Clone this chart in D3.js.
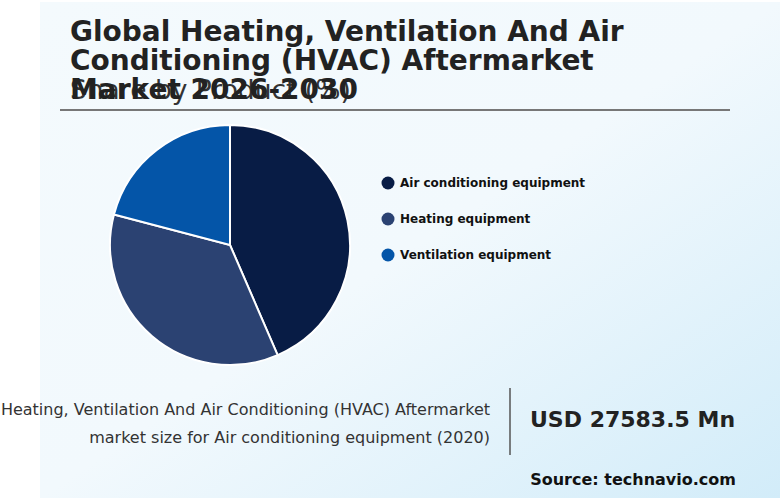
<!DOCTYPE html><html><head><script src="https://d3js.org/d3.v7.min.js"></script>
<style>body{margin:0;background:#fff}text{font-family:"DejaVu Sans",sans-serif}</style></head><body>
<svg id="c" width="780" height="498"></svg>
<script>
const categories=["Air conditioning equipment","Heating equipment","Ventilation equipment"];
const values=[43.5,35.6,20.9];
const colors=["#081c45","#2b4272","#0455a8"];
const svg=d3.select("#c");
const defs=svg.append("defs");
const g=defs.append("linearGradient").attr("id","bg").attr("x1","0").attr("y1","0").attr("x2","1").attr("y2","1");
g.append("stop").attr("offset","0").attr("stop-color","#f4fafd");
g.append("stop").attr("offset","0.5").attr("stop-color","#f2f9fd");
g.append("stop").attr("offset","1").attr("stop-color","#d2ecf9");
svg.append("rect").attr("x",40).attr("y",2).attr("width",740).attr("height",496).attr("fill","url(#bg)");
const title=["Global Heating, Ventilation And Air","Conditioning (HVAC) Aftermarket","Market 2026-2030"];
svg.append("text").attr("x",70).attr("y",99).attr("font-size",26.5).attr("fill","#333").text("Share by Product (%)");
title.forEach((t,i)=>svg.append("text").attr("x",70).attr("y",41+i*29).attr("font-size",28).attr("font-weight","bold").attr("fill","#222").text(t));
svg.append("line").attr("x1",60).attr("x2",730).attr("y1",110).attr("y2",110).attr("stroke","#777").attr("stroke-width",2);
const pie=d3.pie().sort(null)(values);
const arc=d3.arc().innerRadius(0).outerRadius(120);
svg.append("g").attr("transform","translate(230,245)").selectAll("path").data(pie).join("path")
 .attr("d",arc).attr("fill",(d,i)=>colors[i]).attr("stroke","#fff").attr("stroke-width",2);
const lg=svg.append("g");
categories.forEach((c,i)=>{lg.append("circle").attr("cx",388).attr("cy",183+i*36).attr("r",6.5).attr("fill",colors[i]);
 lg.append("text").attr("x",400).attr("y",187+i*36).attr("font-size",12).attr("font-weight","bold").attr("fill","#111").text(c);});
svg.append("text").attr("x",490).attr("y",415).attr("text-anchor","end").attr("font-size",16).attr("fill","#333").text("Heating, Ventilation And Air Conditioning (HVAC) Aftermarket");
svg.append("text").attr("x",490).attr("y",443).attr("text-anchor","end").attr("font-size",16).attr("fill","#333").text("market size for Air conditioning equipment (2020)");
svg.append("line").attr("x1",510).attr("x2",510).attr("y1",388).attr("y2",455).attr("stroke","#555").attr("stroke-width",1.5);
svg.append("text").attr("x",530).attr("y",427).attr("font-size",22).attr("font-weight","bold").attr("fill","#222").text("USD 27583.5 Mn");
svg.append("text").attr("x",736).attr("y",485).attr("text-anchor","end").attr("font-size",16).attr("font-weight","bold").attr("fill","#111").text("Source: technavio.com");
</script></body></html>
